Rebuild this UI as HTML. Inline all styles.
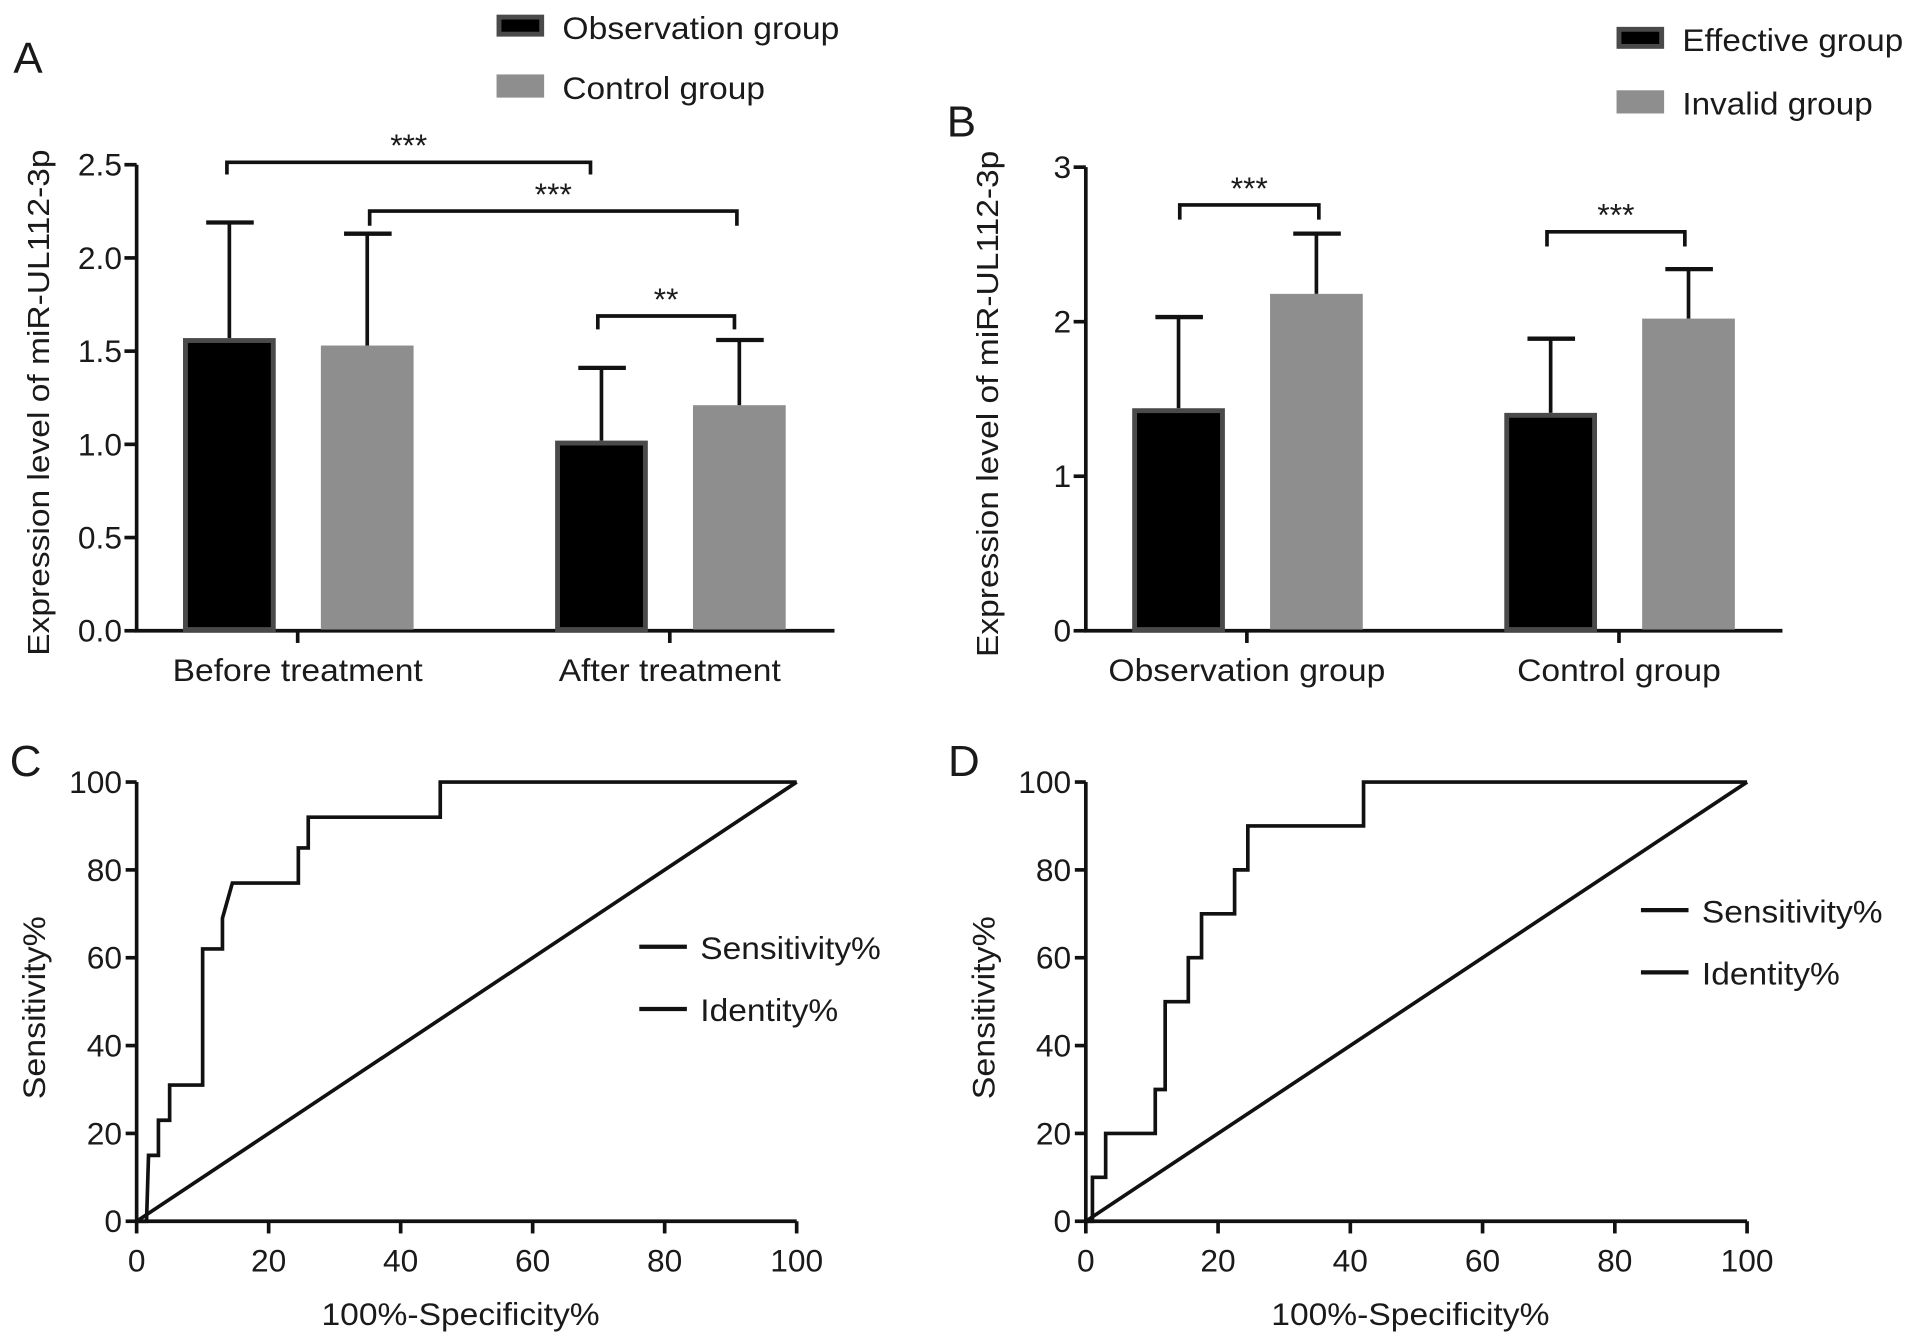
<!DOCTYPE html>
<html><head><meta charset="utf-8"><style>
html,body{margin:0;padding:0;background:#fff}
svg{display:block;font-family:"Liberation Sans",Arial,sans-serif}
text{fill:#1a1a1a}
</style></head><body>
<svg id="fig" width="1913" height="1344" viewBox="0 0 1568 1101.6" xmlns="http://www.w3.org/2000/svg">
<g id="root"></g>
</svg>
<script>
// Panel A data
const aCategories = ["Before treatment", "After treatment"];
const aSeriesNames = ["Observation group", "Control group"];
const aObsMeans = [1.57, 1.02];
const aCtrlMeans = [1.53, 1.21];
const aObsErr = [2.19, 1.41];
const aCtrlErr = [2.13, 1.56];
const aTicks = ["0.0", "0.5", "1.0", "1.5", "2.0", "2.5"];
const aTickVals = [0, 0.5, 1.0, 1.5, 2.0, 2.5];
// Panel B data
const bCategories = ["Observation group", "Control group"];
const bSeriesNames = ["Effective group", "Invalid group"];
const bEffMeans = [1.44, 1.41];
const bInvMeans = [2.18, 2.02];
const bEffErr = [2.03, 1.89];
const bInvErr = [2.57, 2.34];
const bTicks = ["0", "1", "2", "3"];
const bTickVals = [0, 1, 2, 3];
// Panel C ROC
const cFpr = [0, 1.5, 1.8, 3.3, 3.3, 5, 5, 10, 10, 13, 13, 14.5, 24.5, 24.5, 26, 26, 46, 46, 100];
const cTpr = [0, 0, 15, 15, 23, 23, 31, 31, 62, 62, 69, 77, 77, 85, 85, 92, 92, 100, 100];
// Panel D ROC
const dFpr = [0, 1, 1, 3, 3, 10.5, 10.5, 12, 12, 15.5, 15.5, 17.5, 17.5, 22.5, 22.5, 24.5, 24.5, 42, 42, 100];
const dTpr = [0, 0, 10, 10, 20, 20, 30, 30, 50, 50, 60, 60, 70, 70, 80, 80, 90, 90, 100, 100];
const rocTicks = [0, 20, 40, 60, 80, 100];

const NS = "http://www.w3.org/2000/svg";
const root = document.getElementById("root");
function mk(tag, attrs, parent) {
  const e = document.createElementNS(NS, tag);
  for (const k in attrs) e.setAttribute(k, attrs[k]);
  (parent || root).appendChild(e);
  return e;
}
function txt(s, x, y, size, anchor, parent, extra) {
  const t = mk("text", Object.assign({x: x, y: y, "font-size": size, "text-anchor": anchor || "start"}, extra || {}), parent);
  t.textContent = s;
  return t;
}
const K = "#111";

function barPanel(o) {
  const g = mk("g", {});
  
  
  const y = v => o.y0 - (v / o.ymax) * (o.y0 - o.ytop);
  const ax = mk("path", {d: `M${o.x0} ${y(o.ymax)} V${o.y0} H${o.x1}`, stroke: K, "stroke-width": 3, fill: "none"}, g);
  
  
  o.tickVals.forEach((v, i) => {
    mk("line", {x1: o.x0 - 10, x2: o.x0, y1: y(v), y2: y(v), stroke: K, "stroke-width": 3}, g);
    const t = txt(o.ticks[i], o.x0 - 12, y(v) + 9, 26, "end", g);
    
    
  });
  const yt = txt(o.ytitle, 0, 0, 25, "middle", g, {transform: `translate(${o.x0 - 72},${(o.ytop + o.y0) / 2 + 4}) rotate(-90)`, textLength: 415, lengthAdjust: "spacingAndGlyphs"});
  
  
  o.cats.forEach((c, i) => {
    const cx = o.catX[i];
    mk("line", {x1: cx, x2: cx, y1: o.y0, y2: o.y0 + 10, stroke: K, "stroke-width": 3}, g);
    const t = txt(c, cx, o.y0 + 41, 26, "middle", g, {textLength: o.catW[i], lengthAdjust: "spacingAndGlyphs"});
    
    
    const series = [[o.m1[i], o.e1[i], true], [o.m2[i], o.e2[i], false]];
    series.forEach((s, j) => {
      const bx = cx + (j === 0 ? -94 : 19);
      const w = 76;
      const top = y(s[0]), em = y(s[1]);
      const mid = bx + w / 2;
      mk("line", {x1: mid, x2: mid, y1: top, y2: em, stroke: K, "stroke-width": 3}, g);
      mk("line", {x1: mid - 19, x2: mid + 20, y1: em, y2: em, stroke: K, "stroke-width": 3.5}, g);
      let r;
      if (s[2]) r = mk("rect", {x: bx + 2, y: top + 2, width: w - 4, height: o.y0 - top - 3, fill: "#000", stroke: "#4a4a4a", "stroke-width": 4}, g);
      else r = mk("rect", {x: bx, y: top, width: w, height: o.y0 - top - 1, fill: "#8e8e8e"}, g);
      
      
    });
  });
  o.brackets.forEach(b => {
    const bg = mk("g", {}, g);
    
    
    mk("path", {d: `M${b[0]} ${b[2] + b[3]} V${b[2]} H${b[1]} V${b[2] + b[3]}`, stroke: K, "stroke-width": 3, fill: "none"}, bg);
    txt(b[4], (b[0] + b[1]) / 2, b[2] - 5, 26, "middle", bg);
  });
  o.legend.forEach((L, i) => {
    const lg = mk("g", {}, g);
    
    
    if (i === 0) mk("rect", {x: L[0] + 2, y: L[1] + 2, width: 35, height: 14, fill: "#000", stroke: "#4a4a4a", "stroke-width": 4}, lg);
    else mk("rect", {x: L[0], y: L[1], width: 39, height: 19, fill: "#8e8e8e"}, lg);
    txt(L[2], L[0] + 54, L[1] + 20, 26, "start", lg, {textLength: L[3], lengthAdjust: "spacingAndGlyphs"});
  });
  const lab = txt(o.label, o.labX, o.labY, 36, "start", g);
  
  
}

barPanel({name: "panel-a", x0: 112, x1: 684, y0: 517, ytop: 135, ymax: 2.5, ticks: aTicks, tickVals: aTickVals,
  ytitle: "Expression level of miR-UL112-3p", cats: aCategories, catX: [244, 549], catW: [205, 182],
  m1: aObsMeans, m2: aCtrlMeans, e1: aObsErr, e2: aCtrlErr,
  brackets: [[186, 484, 133, 10, "***"], [303, 604, 173, 12, "***"], [490, 602, 259, 11, "**"]],
  legend: [[407, 12, aSeriesNames[0], 227], [407, 61, aSeriesNames[1], 166]],
  label: "A", labX: 11, labY: 60});
barPanel({name: "panel-b", x0: 890, x1: 1461, y0: 517, ytop: 137, ymax: 3, ticks: bTicks, tickVals: bTickVals,
  ytitle: "Expression level of miR-UL112-3p", cats: bCategories, catX: [1022, 1327], catW: [227, 167],
  m1: bEffMeans, m2: bInvMeans, e1: bEffErr, e2: bInvErr,
  brackets: [[967, 1081, 168, 12, "***"], [1268, 1381, 190, 12, "***"]],
  legend: [[1325, 22, bSeriesNames[0], 181], [1325, 74, bSeriesNames[1], 156]],
  label: "B", labX: 776, labY: 112});

function rocPanel(o) {
  const g = mk("g", {});
  
  
  const X = v => o.x0 + v / 100 * (o.x1 - o.x0);
  const Y = v => o.y0 - v / 100 * (o.y0 - o.ytop);
  const ax = mk("path", {d: `M${o.x0} ${Y(100)} V${o.y0} H${o.x1}`, stroke: K, "stroke-width": 3, fill: "none"}, g);
  
  
  rocTicks.forEach(v => {
    mk("line", {x1: o.x0 - 9, x2: o.x0, y1: Y(v), y2: Y(v), stroke: K, "stroke-width": 3}, g);
    const t = txt(String(v), o.x0 - 12, Y(v) + 9, 26, "end", g);
    
    
    mk("line", {x1: X(v), x2: X(v), y1: o.y0, y2: o.y0 + 10, stroke: K, "stroke-width": 3}, g);
    const t2 = txt(String(v), X(v), o.y0 + 41, 26, "middle", g);
    
    
  });
  const xt = txt("100%-Specificity%", (o.x0 + o.x1) / 2 - 5, o.y0 + 85, 26, "middle", g, {textLength: 228, lengthAdjust: "spacingAndGlyphs"});
  
  
  const yt = txt("Sensitivity%", 0, 0, 26, "middle", g, {transform: `translate(${o.x0 - 75},${(o.ytop + o.y0) / 2 + 5}) rotate(-90)`, textLength: 150, lengthAdjust: "spacingAndGlyphs"});
  
  
  const idl = mk("line", {x1: X(0), y1: Y(0), x2: X(100), y2: Y(100), stroke: K, "stroke-width": 3}, g);
  
  
  const pts = o.fpr.map((f, i) => X(f) + "," + Y(o.tpr[i])).join(" ");
  const pl = mk("polyline", {points: pts, stroke: K, "stroke-width": 3, fill: "none"}, g);
  
  
  ["Sensitivity%", "Identity%"].forEach((s, i) => {
    const lg = mk("g", {}, g);
    
    
    const ly = o.legY + i * 51;
    mk("line", {x1: o.legX, x2: o.legX + 39, y1: ly, y2: ly, stroke: K, "stroke-width": 3.5}, lg);
    txt(s, o.legX + 50, ly + 10, 26, "start", lg, {textLength: i === 0 ? 148 : 113, lengthAdjust: "spacingAndGlyphs"});
  });
  const lab = txt(o.label, o.labX, o.labY, 36, "start", g);
  
  
}
rocPanel({name: "panel-c", x0: 112, x1: 653, y0: 1001, ytop: 641, fpr: cFpr, tpr: cTpr, legX: 524, legY: 776, label: "C", labX: 8, labY: 636});
rocPanel({name: "panel-d", x0: 890, x1: 1432, y0: 1001, ytop: 641, fpr: dFpr, tpr: dTpr, legX: 1345, legY: 746, label: "D", labX: 777, labY: 636});
</script>
</body></html>
